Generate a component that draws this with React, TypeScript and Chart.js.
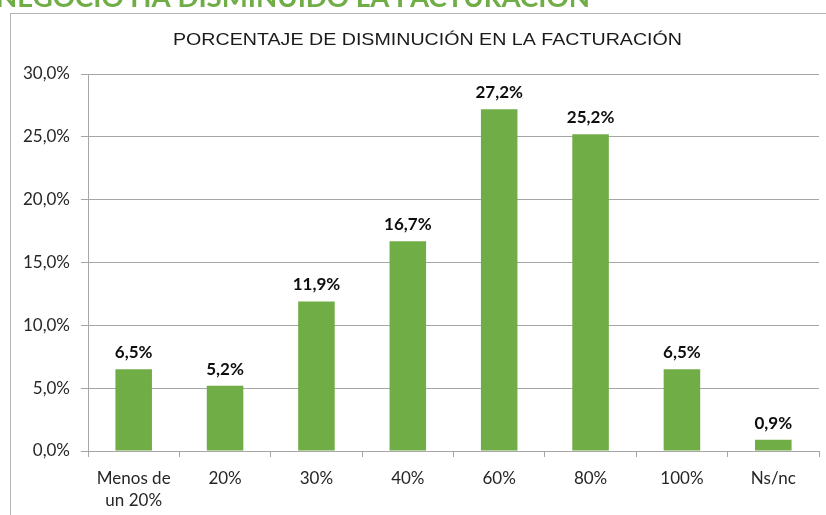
import React, { useEffect, useRef } from "react";
import { Chart, registerables } from "chart.js";

Chart.register(...registerables);

const categories: (string | string[])[] = [["Menos de", "un 20%"], "20%", "30%", "40%", "60%", "80%", "100%", "Ns/nc"];
const values: number[] = [6.5, 5.2, 11.9, 16.7, 27.2, 25.2, 6.5, 0.9];
const yTicks: number[] = [0, 5, 10, 15, 20, 25, 30];
const chartTitle = "PORCENTAJE DE DISMINUCIÓN EN LA FACTURACIÓN";
const pageHeading = "NEGOCIO HA DISMINUIDO LA FACTURACIÓN";

const fmt = (v: number) => v.toFixed(1).replace(".", ",") + "%";

const decorPlugin = {
  id: "decor",
  beforeDraw(chart: any) {
    const ctx = chart.ctx;
    ctx.save();
    ctx.fillStyle = "#ffffff";
    ctx.fillRect(0, 0, chart.width, chart.height);
    // frame
    ctx.strokeStyle = "#b3b3b3";
    ctx.lineWidth = 1;
    ctx.strokeRect(10.5, 13.5, chart.width + 20, chart.height + 20);
    // heading (cropped)
    ctx.save();
    ctx.fillStyle = "#70ad47";
    ctx.font = "bold 27px Lato";
    ctx.textAlign = "left";
    ctx.textBaseline = "alphabetic";
    const hw = ctx.measureText(pageHeading).width;
    ctx.translate(-4, 7);
    ctx.scale(594 / hw, 1);
    ctx.fillText(pageHeading, 0, 0);
    ctx.restore();
    // chart title
    ctx.save();
    ctx.fillStyle = "#1a1a1a";
    ctx.font = "17px 'Liberation Sans'";
    ctx.textAlign = "center";
    ctx.textBaseline = "middle";
    const tw = ctx.measureText(chartTitle).width;
    ctx.translate(427.5, 40);
    ctx.scale(509 / tw, 1);
    ctx.fillText(chartTitle, 0, 0);
    ctx.restore();
    ctx.restore();
  },
  afterDatasetsDraw(chart: any) {
    const ctx = chart.ctx;
    const meta = chart.getDatasetMeta(0);
    ctx.save();
    ctx.fillStyle = "#0d0d0d";
    ctx.font = "bold 17px Lato";
    ctx.textAlign = "center";
    ctx.textBaseline = "bottom";
    meta.data.forEach((bar: any, i: number) => {
      ctx.fillText(fmt(values[i]), bar.x, bar.y - 8);
    });
    ctx.restore();
  },
};

export default function App() {
  const ref = useRef<HTMLCanvasElement | null>(null);
  useEffect(() => {
    document.body.style.margin = "0";
    if (!ref.current) return;
    const chart = new Chart(ref.current, {
      type: "bar",
      data: {
        labels: categories,
        datasets: [
          {
            data: values,
            backgroundColor: "#70ad47",
            borderWidth: 0,
            categoryPercentage: 0.8,
            barPercentage: 0.5,
          },
        ],
      },
      options: {
        animation: false,
        responsive: false,
        maintainAspectRatio: false,
        layout: { padding: { left: 11, top: 74, right: 7, bottom: 0 } },
        plugins: { legend: { display: false }, title: { display: false }, tooltip: { enabled: false } },
        scales: {
          x: {
            grid: { drawOnChartArea: false, color: "#a6a6a6", tickLength: 6, offset: true },
            border: { color: "#a6a6a6" },
            ticks: {
              color: "#262626",
              font: { family: "Lato", size: 17, lineHeight: 1.3 },
              padding: 10,
              maxRotation: 0,
              autoSkip: false,
            },
            afterFit(scale: any) {
              scale.height = 64;
            },
          },
          y: {
            min: 0,
            max: 30,
            afterBuildTicks(scale: any) {
              scale.ticks = yTicks.map((v) => ({ value: v }));
            },
            grid: { color: "#a6a6a6", tickLength: 7 },
            border: { color: "#a6a6a6" },
            ticks: {
              color: "#262626",
              font: { family: "Lato", size: 17 },
              padding: 11,
              callback: (v: any) => fmt(Number(v)),
            },
            afterFit(scale: any) {
              scale.width = 77;
            },
          },
        },
      },
      plugins: [decorPlugin],
    });
    return () => chart.destroy();
  }, []);
  return (
    <div style={{ position: "fixed", left: 0, top: 0, width: 826, height: 515, background: "#fff" }}>
      <canvas ref={ref} width={826} height={515} style={{ width: 826, height: 515, display: "block" }} />
    </div>
  );
}
